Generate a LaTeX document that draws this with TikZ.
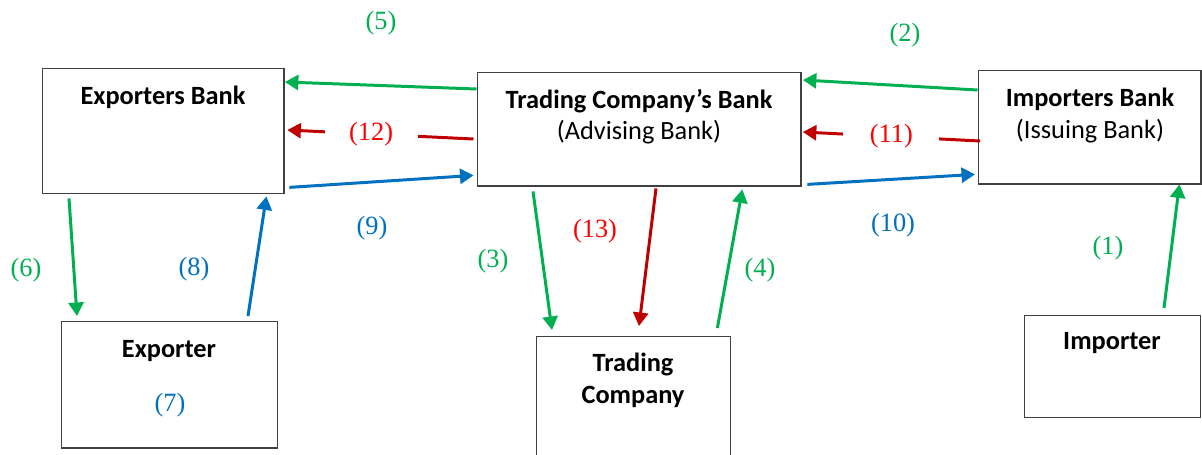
\documentclass[tikz,border=0pt]{standalone}
\usepackage{fontspec}
\setmainfont{Liberation Serif}
\newfontfamily\calib{Carlito}
\usetikzlibrary{arrows.meta}

\definecolor{lcgreen}{HTML}{00B050}
\definecolor{lcblue}{HTML}{0070C0}
\definecolor{lcdred}{HTML}{C00000}
\definecolor{lcred}{HTML}{FF0000}

\tikzset{
    bankbox/.style={draw=black!75, line width=0.8pt, rectangle, anchor=north west, inner sep=0pt},
    ttl/.style={font=\calib\bfseries\fontsize{15}{18}\selectfont, align=center},
    num/.style={font=\fontsize{15}{18}\selectfont},
    flow/.style={line width=1.7pt, -{Triangle[length=0.27cm, width=0.3cm]}},
    gap/.style={num, fill=white, inner ysep=1pt}
}

\begin{document}
\begin{tikzpicture}[x=0.02cm, y=-0.02cm]
    \useasboundingbox (0,0) rectangle (1202,454);

    % boxes
    \node[bankbox, minimum width=4.84cm, minimum height=2.5cm] (eb) at (41.5,68) {};
    \node[bankbox, minimum width=6.48cm, minimum height=2.28cm] (tcb) at (476.5,71.5) {};
    \node[bankbox, minimum width=4.46cm, minimum height=2.27cm] (ib) at (977.5,70) {};
    \node[bankbox, minimum width=4.32cm, minimum height=2.53cm] (ex) at (61,321) {};
    \node[bankbox, minimum width=3.88cm, minimum height=2.7cm] (tc) at (536,335.5) {};
    \node[bankbox, minimum width=3.52cm, minimum height=2.04cm] (im) at (1024,315) {};

    % box texts
    \node[ttl] (ebt) at (163,97) {Exporters Bank};
    \node[ttl] (tcbt) at (639,116.5) {Trading Company’s Bank\\\mdseries(Advising Bank)};
    \node[ttl] (ibt) at (1090,115.5) {Importers Bank\\\mdseries(Issuing Bank)};
    \node[ttl] (ext) at (169,351) {Exporter};
    \node[ttl] (tct) at (633,380.5) {Trading\\Company};
    \node[ttl] (imt) at (1112,343) {Importer};

    % green flows
    \draw[flow, lcgreen] ([shift={(140,-7)}]im.north west) -- ([shift={(-22.5,-0.5)}]ib.south east);
    \draw[flow, lcgreen] ([shift={(0,20)}]ib.north west) -- ([shift={(1,8.5)}]tcb.north east);
    \draw[flow, lcgreen] ([shift={(56.5,4.5)}]tcb.south west) -- ([shift={(16,-5.5)}]tc.north west);
    \draw[flow, lcgreen] ([shift={(-14,-7.5)}]tc.north east) -- ([shift={(-59.5,2.5)}]tcb.south east);
    \draw[flow, lcgreen] ([shift={(0,17.5)}]tcb.north west) -- ([shift={(0,14)}]eb.north east);
    \draw[flow, lcgreen] ([shift={(27.5,4)}]eb.south west) -- ([shift={(16,-5)}]ex.north west);

    % blue flows
    \draw[flow, lcblue] ([shift={(187,-5)}]ex.north west) -- ([shift={(-18.5,2)}]eb.south east);
    \draw[flow, lcblue] ([shift={(4.5,-7)}]eb.south east) -- ([shift={(-3,-11.5)}]tcb.south west);
    \draw[flow, lcblue] ([shift={(5.5,-2.5)}]tcb.south east) -- ([shift={(-2.5,-10.5)}]ib.south west);

    % red flows
    \draw[flow, lcdred] ([shift={(2.5,71)}]ib.north west) -- node[gap, pos=0.5, inner xsep=0.53cm, text=lcred] {(11)} ([shift={(1,60.5)}]tcb.north east);
    \draw[flow, lcdred] ([shift={(-3,67.5)}]tcb.north west) -- node[gap, pos=0.55, inner xsep=0.49cm, text=lcred] {(12)} ([shift={(2.5,62)}]eb.north east);
    \draw[flow, lcdred] ([shift={(179.5,1.5)}]tcb.south west) -- ([shift={(103,-9.5)}]tc.north west);

    % step numbers
    \node[num, text=lcgreen] (n1) at (1108,248) {(1)};
    \node[num, text=lcgreen] (n2) at (905,35) {(2)};
    \node[num, text=lcgreen] (n3) at (493,261) {(3)};
    \node[num, text=lcgreen] (n4) at (760,270) {(4)};
    \node[num, text=lcgreen] (n5) at (381,23) {(5)};
    \node[num, text=lcgreen] (n6) at (26,270) {(6)};
    \node[num, text=lcblue] (n7) at (170,405) {(7)};
    \node[num, text=lcblue] (n8) at (194,269) {(8)};
    \node[num, text=lcblue] (n9) at (372,228) {(9)};
    \node[num, text=lcblue] (n10) at (893,225) {(10)};
    \node[num, text=lcred] (n13) at (595,231) {(13)};
\end{tikzpicture}
\end{document}
